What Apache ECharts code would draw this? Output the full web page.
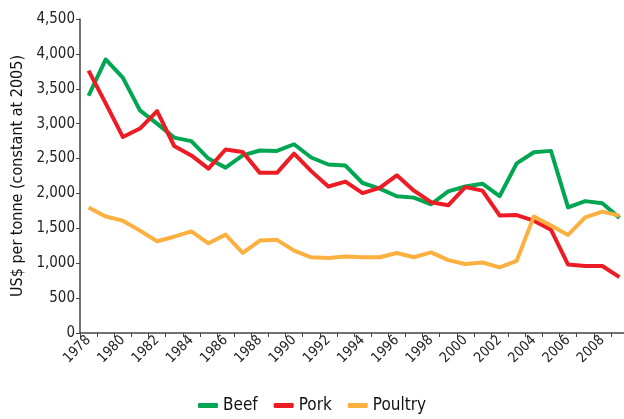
<!DOCTYPE html>
<html>
<head>
<meta charset="utf-8">
<script src="https://cdn.jsdelivr.net/npm/echarts@6/dist/echarts.min.js"></script>
<style>
  html, body { margin: 0; padding: 0; background: #fff; }
  #chart { width: 624px; height: 419px; }
</style>
</head>
<body>
<div id="chart"></div>
<script>
const years = [];
for (let y = 1978; y <= 2009; y++) years.push(String(y));

const beef = [3400, 3920, 3660, 3190, 3000, 2800, 2750, 2500, 2370, 2545, 2615,
  2610, 2705, 2515, 2415, 2400, 2150, 2070, 1960, 1940, 1845,
  2030, 2100, 2140, 1960, 2430, 2590, 2610, 1800, 1890, 1860, 1650];
const pork = [3760, 3290, 2810, 2930, 3180, 2680, 2545, 2355, 2630, 2595, 2295,
  2295, 2570, 2320, 2100, 2170, 2005, 2080, 2260, 2040, 1875,
  1830, 2090, 2040, 1685, 1690, 1610, 1480, 980, 960, 960, 800];
const poultry = [1800, 1670, 1610, 1467, 1315, 1380, 1457, 1285, 1410, 1150, 1325,
  1335, 1180, 1085, 1075, 1097, 1085, 1085, 1146, 1085, 1155,
  1045, 988, 1011, 940, 1035, 1668, 1540, 1405, 1658, 1740, 1682];

const FONT = "'DejaVu Sans Condensed', 'Liberation Sans Narrow', sans-serif";
const AXIS_COLOR = '#444';

const chart = echarts.init(document.getElementById('chart'));

function lineSeries(name, data, color) {
  return {
    name, type: 'line', data,
    symbol: 'none',
    lineStyle: { color, width: 4, join: 'round' },
    itemStyle: { color },
    emphasis: { disabled: true },
  };
}

chart.setOption({
  animation: false,
  textStyle: { fontFamily: FONT },
  // the plot runs a few px past the right edge, as in the source image
  grid: { left: 80, right: -4, top: 19, bottom: 86, outerBoundsMode: 'none' },
  legend: {
    bottom: 0,
    left: 'center',
    icon: 'roundRect',
    itemWidth: 20,
    itemHeight: 5,
    itemGap: 16,
    textStyle: { fontFamily: FONT, fontSize: 17, color: '#111' },
    data: ['Beef', 'Pork', 'Poultry'],
  },
  xAxis: {
    type: 'category',
    data: years,
    boundaryGap: true,
    axisLine: { lineStyle: { color: AXIS_COLOR, width: 1.5 } },
    axisTick: { show: true, interval: 0, length: 4, lineStyle: { color: AXIS_COLOR } },
    axisLabel: {
      interval: 1, rotate: 45, margin: 5,
      fontFamily: FONT, fontSize: 14, color: '#222',
    },
  },
  yAxis: {
    type: 'value',
    min: 0, max: 4500, interval: 500,
    name: 'US$ per tonne (constant at 2005)',
    nameLocation: 'middle',
    nameGap: 54,
    nameTextStyle: { fontFamily: FONT, fontSize: 16, color: '#111' },
    axisLine: { show: true, lineStyle: { color: AXIS_COLOR, width: 1.5 } },
    axisTick: { show: true, length: 4, lineStyle: { color: AXIS_COLOR } },
    splitLine: { show: false },
    axisLabel: {
      margin: 5, fontFamily: FONT, fontSize: 15, color: '#222',
      formatter: v => v.toLocaleString('en-US'),
    },
  },
  series: [
    lineSeries('Beef', beef, '#00a651'),
    lineSeries('Pork', pork, '#ed1c24'),
    lineSeries('Poultry', poultry, '#fbb040'),
  ],
});
</script>
</body>
</html>
